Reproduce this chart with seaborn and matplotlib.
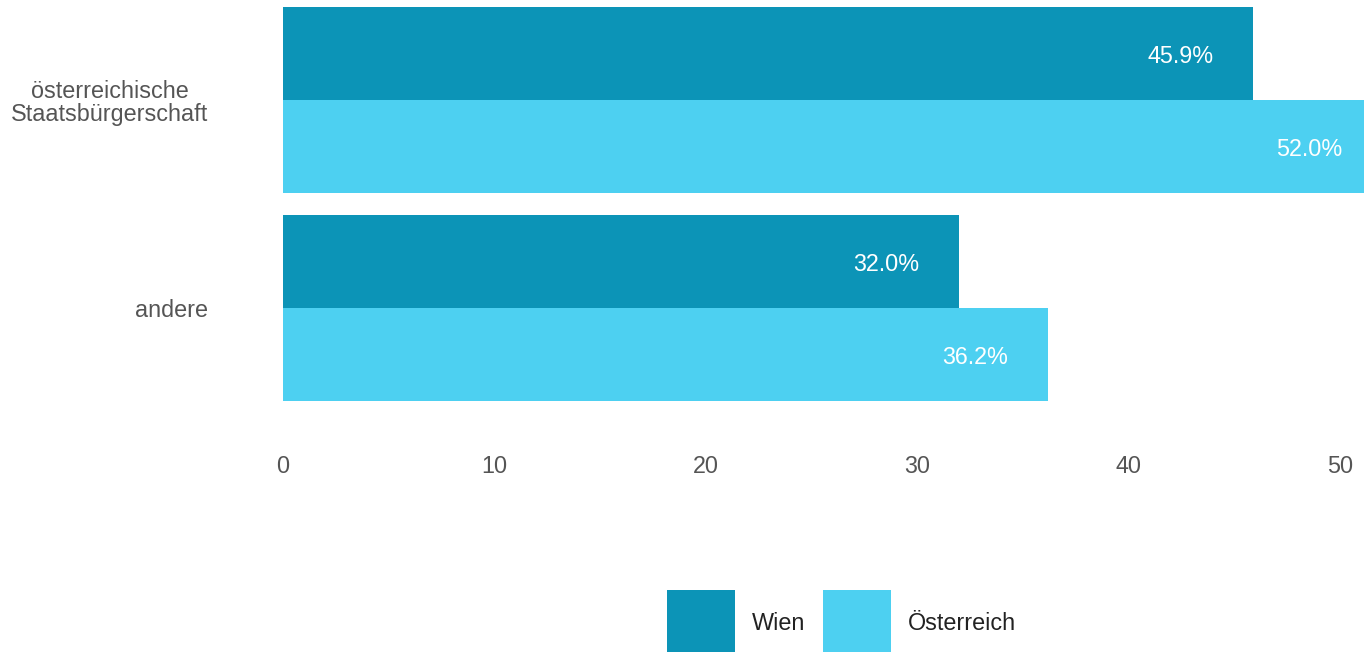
import numpy as np
import pandas as pd
import matplotlib
matplotlib.use('Agg')
import matplotlib.pyplot as plt
import seaborn as sns

CATEGORIES   = ['österreichische\nStaatsbürgerschaft', 'andere']
SERIES       = ['Wien', 'Österreich']
WIEN         = [45.9, 32.0]
OESTERREICH  = [52.0, 36.2]
X_TICKS      = [0, 10, 20, 30, 40, 50]

COLORS = ['#0C94B7', '#4DD0F1']
FS = 16.8

sns.set_theme(style='white')
plt.rcParams['font.family'] = ['Liberation Sans', 'DejaVu Sans']

df = pd.DataFrame({
    'Kategorie': CATEGORIES * 2,
    'Region':    [SERIES[0]] * len(CATEGORIES) + [SERIES[1]] * len(CATEGORIES),
    'Wert':      WIEN + OESTERREICH,
})

DPI = 100
W, H = 1364, 652
fig = plt.figure(figsize=(W / DPI, H / DPI), dpi=DPI)

# axes placed in pixel terms: x=0 at px 283, right edge of figure = px 1364
ax_left, ax_top, ax_bottom = 283, 0, 440
ax = fig.add_axes([ax_left / W, 1 - ax_bottom / H, 1 - ax_left / W, (ax_bottom - ax_top) / H])

sns.barplot(data=df, y='Kategorie', x='Wert', hue='Region', orient='h',
            palette=COLORS, width=0.894, saturation=1, linewidth=0,
            ax=ax, errorbar=None)

px_per_unit = (1340 - 283) / 50
ax.set_xlim(0, (W - ax_left) / px_per_unit)
ax.set_ylim(1 + (ax_bottom - 308) / 208, -100 / 208)

# value labels inside bar ends
for cont in ax.containers:
    for patch in cont:
        val = patch.get_width()
        y = patch.get_y() + patch.get_height() / 2
        ax.annotate(f'{val:.1f}%', xy=(val, y), xytext=(-40, -3),
                    textcoords='offset pixels', ha='right', va='center',
                    color='white', fontsize=FS, annotation_clip=False,
                    clip_on=True)

ax.set_xticks(X_TICKS)
ax.set_xticklabels([str(t) for t in X_TICKS])
ax.set_xlabel('')
ax.set_ylabel('')
ax.tick_params(axis='x', length=0, pad=11, labelsize=FS, labelcolor='#555555')
ax.tick_params(axis='y', length=0, pad=54, labelsize=FS, labelcolor='#555555')
for lbl in ax.get_yticklabels():
    lbl.set_multialignment('center')
    lbl.set_linespacing(1.0)
sns.despine(ax=ax, left=True, bottom=True)

handles, labels = ax.get_legend_handles_labels()
ax.legend_.remove()
fig.legend(handles, labels, loc='upper center', bbox_to_anchor=(0.617, 1 - 578 / H),
           ncol=2, frameon=False, fontsize=FS, handlelength=2.9, handleheight=4.2,
           handletextpad=0.73, columnspacing=0.77, borderpad=0, labelcolor='#222222')

fig.savefig('out.png', dpi=DPI)
